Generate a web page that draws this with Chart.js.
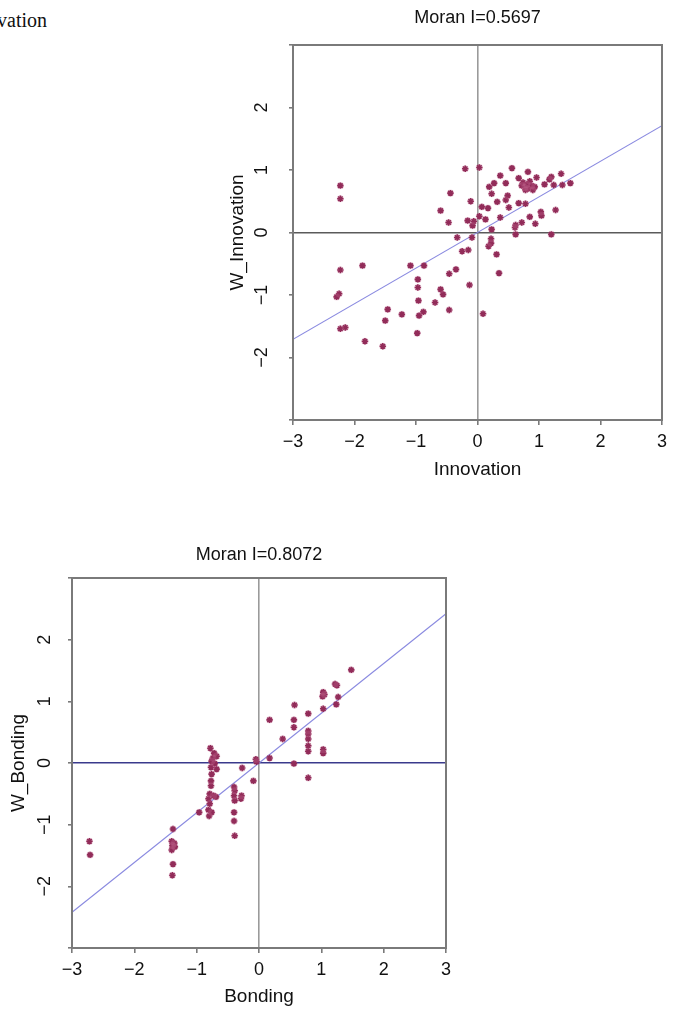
<!DOCTYPE html>
<html>
<head>
<meta charset="utf-8">
<script src="https://cdn.jsdelivr.net/npm/chart.js@4.4.0/dist/chart.umd.min.js"></script>
<style>
  body { margin: 0; background: #fff; width: 673px; height: 1009px; overflow: hidden; position: relative; }
  #c1 { position: absolute; left: 200px; top: 0; }
  #c2 { position: absolute; left: 0; top: 525px; }
  #corner { position: absolute; left: -3px; top: 10px; font-family: "Liberation Serif", serif; font-size: 20px; line-height: 20px; color: #111; }
</style>
</head>
<body>
<div id="corner">vation</div>
<canvas id="c1" width="473" height="500"></canvas>
<canvas id="c2" width="470" height="484"></canvas>
<script>
// innovation: Moran scatter (x = Innovation, y = W_Innovation)
const innovTitle = 'Moran I=0.5697';
const innovSlope = 0.5697;
const innovX = [-2.23, -2.23, -0.44, -0.60, -0.47, -2.23, -1.87, -1.09, -0.87, -0.46, -0.97, -0.97, -0.60, -0.56, -2.25,
  -2.29, -0.96, -0.69, -1.46, -0.46, -1.23, -0.88, -0.95, -1.50, -2.23, -2.15, -0.98, -1.83, -1.54,
  -0.20, 0.03, 0.56, 0.82, 0.37, 0.67, 0.96, 1.20, 1.36, 0.27, 0.46, 0.74, 0.80, 0.88, 0.77, 0.82, 0.93, 1.09,
  1.17, 1.24, 1.38, 1.51, 0.19, 0.23, 0.49, 0.46, 0.32, 0.67, 0.78, -0.11, 0.07, 0.17, 0.51, 1.03, 1.04, 1.27,
  0.85, 0.37, 0.03, 0.13, -0.16, -0.06, -0.08, 0.72, 0.94, 0.62, 0.61, 0.23, 0.62, 1.20, -0.33, -0.09, 0.22,
  0.22, 0.18, -0.25, -0.15, 0.31, -0.35, 0.35, -0.13, 0.09, 0.85, 0.78, 0.90, 0.72];
const innovY = [0.75, 0.54, 0.63, 0.35, 0.16, -0.60, -0.53, -0.53, -0.53, -0.66, -0.75, -0.88, -0.91, -0.99, -0.98,
  -1.03, -1.09, -1.12, -1.23, -1.24, -1.31, -1.27, -1.33, -1.41, -1.54, -1.52, -1.61, -1.74, -1.82,
  1.02, 1.04, 1.03, 0.97, 0.91, 0.87, 0.88, 0.89, 0.94, 0.79, 0.79, 0.80, 0.77, 0.75, 0.72, 0.70, 0.73, 0.77,
  0.85, 0.76, 0.76, 0.79, 0.73, 0.62, 0.59, 0.52, 0.49, 0.47, 0.46, 0.50, 0.41, 0.39, 0.40, 0.33, 0.27, 0.36,
  0.25, 0.24, 0.26, 0.21, 0.19, 0.18, 0.11, 0.16, 0.14, 0.12, 0.08, 0.05, -0.03, -0.03, -0.08, -0.08, -0.10,
  -0.17, -0.22, -0.30, -0.28, -0.35, -0.59, -0.65, -0.84, -1.30, 0.82, 0.68, 0.68, 0.75];

// bonding: Moran scatter (x = Bonding, y = W_Bonding)
const bondTitle = 'Moran I=0.8072';
const bondSlope = 0.8072;
const bondX = [-2.72, -2.71, -1.38, -1.40, -1.39, -1.35, -1.40, -1.38, -1.39, -0.96, -0.78, -0.72, -0.68, -0.76,
  -0.71, -0.77, -0.68, -0.76, -0.77, -0.77, -0.79, -0.73, -0.69, -0.81, -0.79, -0.81, -0.76, -0.80, -0.40, -0.39,
  -0.40, -0.39, -0.40, -0.40, -0.39, -0.28, -0.29, -0.27, -0.09, -0.05, 1.48, 1.22, 1.25, 1.03, 1.05, 1.27, 1.24,
  1.03, 0.57, 0.79, 0.17, 0.56, 0.56, 0.79, 0.79, 0.38, 0.79, 0.79, 0.79, 1.03, 1.03, 0.17, 0.56, 0.79, 1.02,
  -1.36, -0.74, -0.04];
const bondY = [-1.27, -1.49, -1.07, -1.27, -1.34, -1.36, -1.41, -1.64, -1.82, -0.80, 0.24, 0.16, 0.11, 0.03,
  -0.01, -0.07, -0.10, -0.18, -0.29, -0.37, -0.50, -0.53, -0.55, -0.58, -0.66, -0.76, -0.80, -0.86, -0.39, -0.45,
  -0.53, -0.61, -0.80, -0.94, -1.18, -0.53, -0.58, -0.08, -0.29, 0.06, 1.51, 1.28, 1.26, 1.15, 1.11, 1.07, 0.95,
  0.88, 0.94, 0.80, 0.70, 0.70, 0.58, 0.52, 0.47, 0.39, 0.39, 0.28, 0.19, 0.22, 0.16, 0.08, -0.01, -0.24, 1.08,
  -1.30, 0.08, 0.02];

const axisMin = -3, axisMax = 3;
const ptColor = '#7d1242';

function minus(v) {
  return v < 0 ? '\u2212' + Math.abs(v) : String(v);
}

// frame round the plot + the "Moran I" heading
const framePlugin = {
  id: 'frame',
  afterDraw(chart, args, opts) {
    const a = chart.chartArea, ctx = chart.ctx;
    ctx.save();
    ctx.strokeStyle = '#7a7a7a';
    ctx.lineWidth = 2;
    ctx.strokeRect(a.left, a.top, a.right - a.left, a.bottom - a.top);
    ctx.fillStyle = '#111';
    ctx.font = '18px "Liberation Sans", Arial, sans-serif';
    ctx.textAlign = 'center';
    ctx.textBaseline = 'middle';
    ctx.fillText(opts.text, (a.left + a.right) / 2, a.top - opts.gap);
    ctx.restore();
  }
};

function makeChart(id, xs, ys, slope, title, gap, xName, yName, zeroColor, box) {
  const pts = xs.map((x, i) => ({ x: x, y: ys[i] }));
  const line = [{ x: axisMin, y: axisMin * slope }, { x: axisMax, y: axisMax * slope }];
  const tickFont = { family: '"Liberation Sans", Arial, sans-serif', size: 18 };
  return new Chart(document.getElementById(id), {
    type: 'scatter',
    data: {
      datasets: [
        { data: pts, pointStyle: 'circle', pointRadius: 3.6, backgroundColor: 'rgba(200,110,150,0.28)', borderWidth: 0 },
        { data: pts, pointStyle: 'star', pointRadius: 3.2, borderColor: ptColor, borderWidth: 1.6 },
        { type: 'line', data: line, borderColor: '#8a8ae0', borderWidth: 1.2, pointRadius: 0, fill: false }
      ]
    },
    options: {
      responsive: false,
      animation: false,
      events: [],
      layout: { padding: { top: box.top, right: box.right, left: 0, bottom: 0 } },
      plugins: { legend: { display: false }, tooltip: { enabled: false }, frame: { text: title, gap: gap } },
      scales: {
        x: {
          type: 'linear', min: axisMin, max: axisMax,
          afterFit: s => { s.height = box.xh; },
          border: { display: false },
          grid: {
            drawOnChartArea: true, tickLength: 5, lineWidth: 1.6,
            color: c => c.tick && c.tick.value === 0 ? '#9a9a9a' : 'rgba(0,0,0,0)',
            tickColor: '#7a7a7a'
          },
          ticks: { stepSize: 1, padding: 6, color: '#111', font: tickFont, callback: v => minus(v), maxRotation: 0 },
          title: { display: true, text: xName, color: '#111', font: { family: tickFont.family, size: 19 }, padding: { top: 0, bottom: box.xtp } }
        },
        y: {
          type: 'linear', min: axisMin, max: axisMax,
          afterFit: s => { s.width = box.yw; },
          border: { display: false },
          grid: {
            drawOnChartArea: true, tickLength: 4, lineWidth: 1.6,
            color: c => c.tick && c.tick.value === 0 ? zeroColor : 'rgba(0,0,0,0)',
            tickColor: '#7a7a7a'
          },
          ticks: {
            stepSize: 1, padding: box.ytp, color: '#111', font: tickFont, minRotation: 90, maxRotation: 90,
            crossAlign: 'center',
            callback: v => (v === axisMin || v === axisMax) ? '' : minus(v)
          },
          title: { display: true, text: yName, color: '#111', font: { family: tickFont.family, size: 19 }, padding: { top: box.ytt, bottom: 0 } }
        }
      }
    },
    plugins: [framePlugin]
  });
}

makeChart('c1', innovX, innovY, innovSlope, innovTitle, 27, 'Innovation', 'W_Innovation', '#5a5a5a',
  { top: 45, right: 8, xh: 80, yw: 93, xtp: 19, ytp: 17, ytt: 26 });
makeChart('c2', bondX, bondY, bondSlope, bondTitle, 23, 'Bonding', 'W_Bonding', '#3a3a8c',
  { top: 53, right: 24, xh: 61, yw: 72, xtp: 1, ytp: 13, ytt: 7 });
</script>
</body>
</html>
